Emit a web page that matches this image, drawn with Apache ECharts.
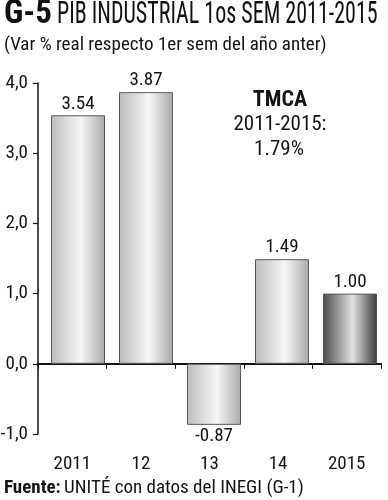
<!DOCTYPE html>
<html><head><meta charset="utf-8">
<script src="https://cdn.jsdelivr.net/npm/echarts@6/dist/echarts.min.js"></script>
<style>html,body{margin:0;padding:0;background:#fff}#c{width:388px;height:500px}</style>
</head><body><div id="c"></div>
<script>
const categories = ['2011', '12', '13', '14', '2015'];
const values = [3.54, 3.87, -0.87, 1.49, 1.00];
const highlightIndex = 4;
const yMin = -1, yMax = 4, yStep = 1;
const F = "'Roboto Condensed','DejaVu Sans Condensed',sans-serif";
const TXT = '#141414';

const lightGrad = {type:'linear',x:0,y:0,x2:1,y2:0,colorStops:[
  {offset:0,color:'#bcbcbc'},{offset:0.55,color:'#f7f7f7'},{offset:1,color:'#a9a9a9'}]};
const darkGrad = {type:'linear',x:0,y:0,x2:1,y2:0,colorStops:[
  {offset:0,color:'#4c4c4c'},{offset:0.55,color:'#e2e2e2'},{offset:1,color:'#3a3a3a'}]};

const chart = echarts.init(document.getElementById('c'), null, {renderer:'canvas'});
chart.setOption({
  animation:false,
  backgroundColor:'#fff',
  graphic:[
    {type:'text',x:4,y:-2,style:{text:'G-5',fontFamily:F,fontSize:33,fontWeight:'bold',fill:'#111',textVerticalAlign:'top'}},
    {type:'text',x:57,y:0,scaleX:0.71,style:{text:'PIB INDUSTRIAL 1os SEM 2011-2015',fontFamily:F,fontSize:31,fontWeight:'normal',fill:'#111',textVerticalAlign:'top'}},
    {type:'text',x:4,y:36,style:{text:'(Var % real respecto 1er sem del año anter)',fontFamily:F,fontSize:19,fill:TXT,textVerticalAlign:'top'}},
    {type:'text',x:280,y:89,style:{text:'TMCA',fontFamily:F,fontSize:22,fontWeight:'bold',fill:TXT,textAlign:'center',textVerticalAlign:'top'}},
    {type:'text',x:280,y:114,style:{text:'2011-2015:',fontFamily:F,fontSize:21,fill:TXT,textAlign:'center',textVerticalAlign:'top'}},
    {type:'text',x:279,y:139,style:{text:'1.79%',fontFamily:F,fontSize:21,fill:TXT,textAlign:'center',textVerticalAlign:'top'}},
    {type:'text',x:4,y:479,style:{text:'{f|Fuente:} {g|UNITÉ con datos del INEGI (G-1)}',fill:TXT,textVerticalAlign:'top',
      rich:{f:{fontFamily:F,fontSize:19,fontWeight:'bold',fill:TXT},g:{fontFamily:F,fontSize:19,fontWeight:'normal',fill:TXT}}}}
  ],
  grid:[
    {left:44,width:340,top:83,height:351,containLabel:false,outerBoundsMode:'none'},
    {left:38,width:343,top:83,height:351,containLabel:false,outerBoundsMode:'none'}
  ],
  xAxis:[
    {gridIndex:0,type:'category',data:categories,show:false},
    {gridIndex:1,type:'category',data:categories,position:'bottom',
      axisLine:{onZero:true,lineStyle:{color:'#111',width:2}},
      axisTick:{show:true,inside:false,length:5,alignWithLabel:false,lineStyle:{color:'#111',width:1}},
      axisLabel:{show:false}},
    {gridIndex:1,type:'category',data:categories,position:'bottom',offset:0,
      axisLine:{show:false,onZero:false},
      axisTick:{show:false},
      axisLabel:{show:true,margin:21,fontFamily:F,fontSize:19,color:TXT}}
  ],
  yAxis:[
    {gridIndex:0,type:'value',min:yMin,max:yMax,interval:yStep,show:false},
    {gridIndex:1,type:'value',min:yMin,max:yMax,interval:yStep,
      axisLine:{show:true,lineStyle:{color:'#111',width:1.5}},
      axisTick:{show:true,length:5,lineStyle:{color:'#111',width:1.2}},
      splitLine:{show:false},
      axisLabel:{margin:10,fontFamily:F,fontSize:19,color:TXT,
        formatter:v=>v.toFixed(1).replace('.',',')}}
  ],
  series:[{type:'bar',xAxisIndex:0,yAxisIndex:0,barWidth:54,z:1,
    data:values.map((v,i)=>({value:v,
      itemStyle:{color:i===highlightIndex?darkGrad:lightGrad},
      label:{position:v<0?'bottom':'top'}})),
    itemStyle:{borderColor:'#5a5a5a',borderWidth:1},
    label:{show:true,fontFamily:F,fontSize:19,color:TXT,distance:2,
      formatter:p=>p.value.toFixed(2)}
  }]
});
</script></body></html>
